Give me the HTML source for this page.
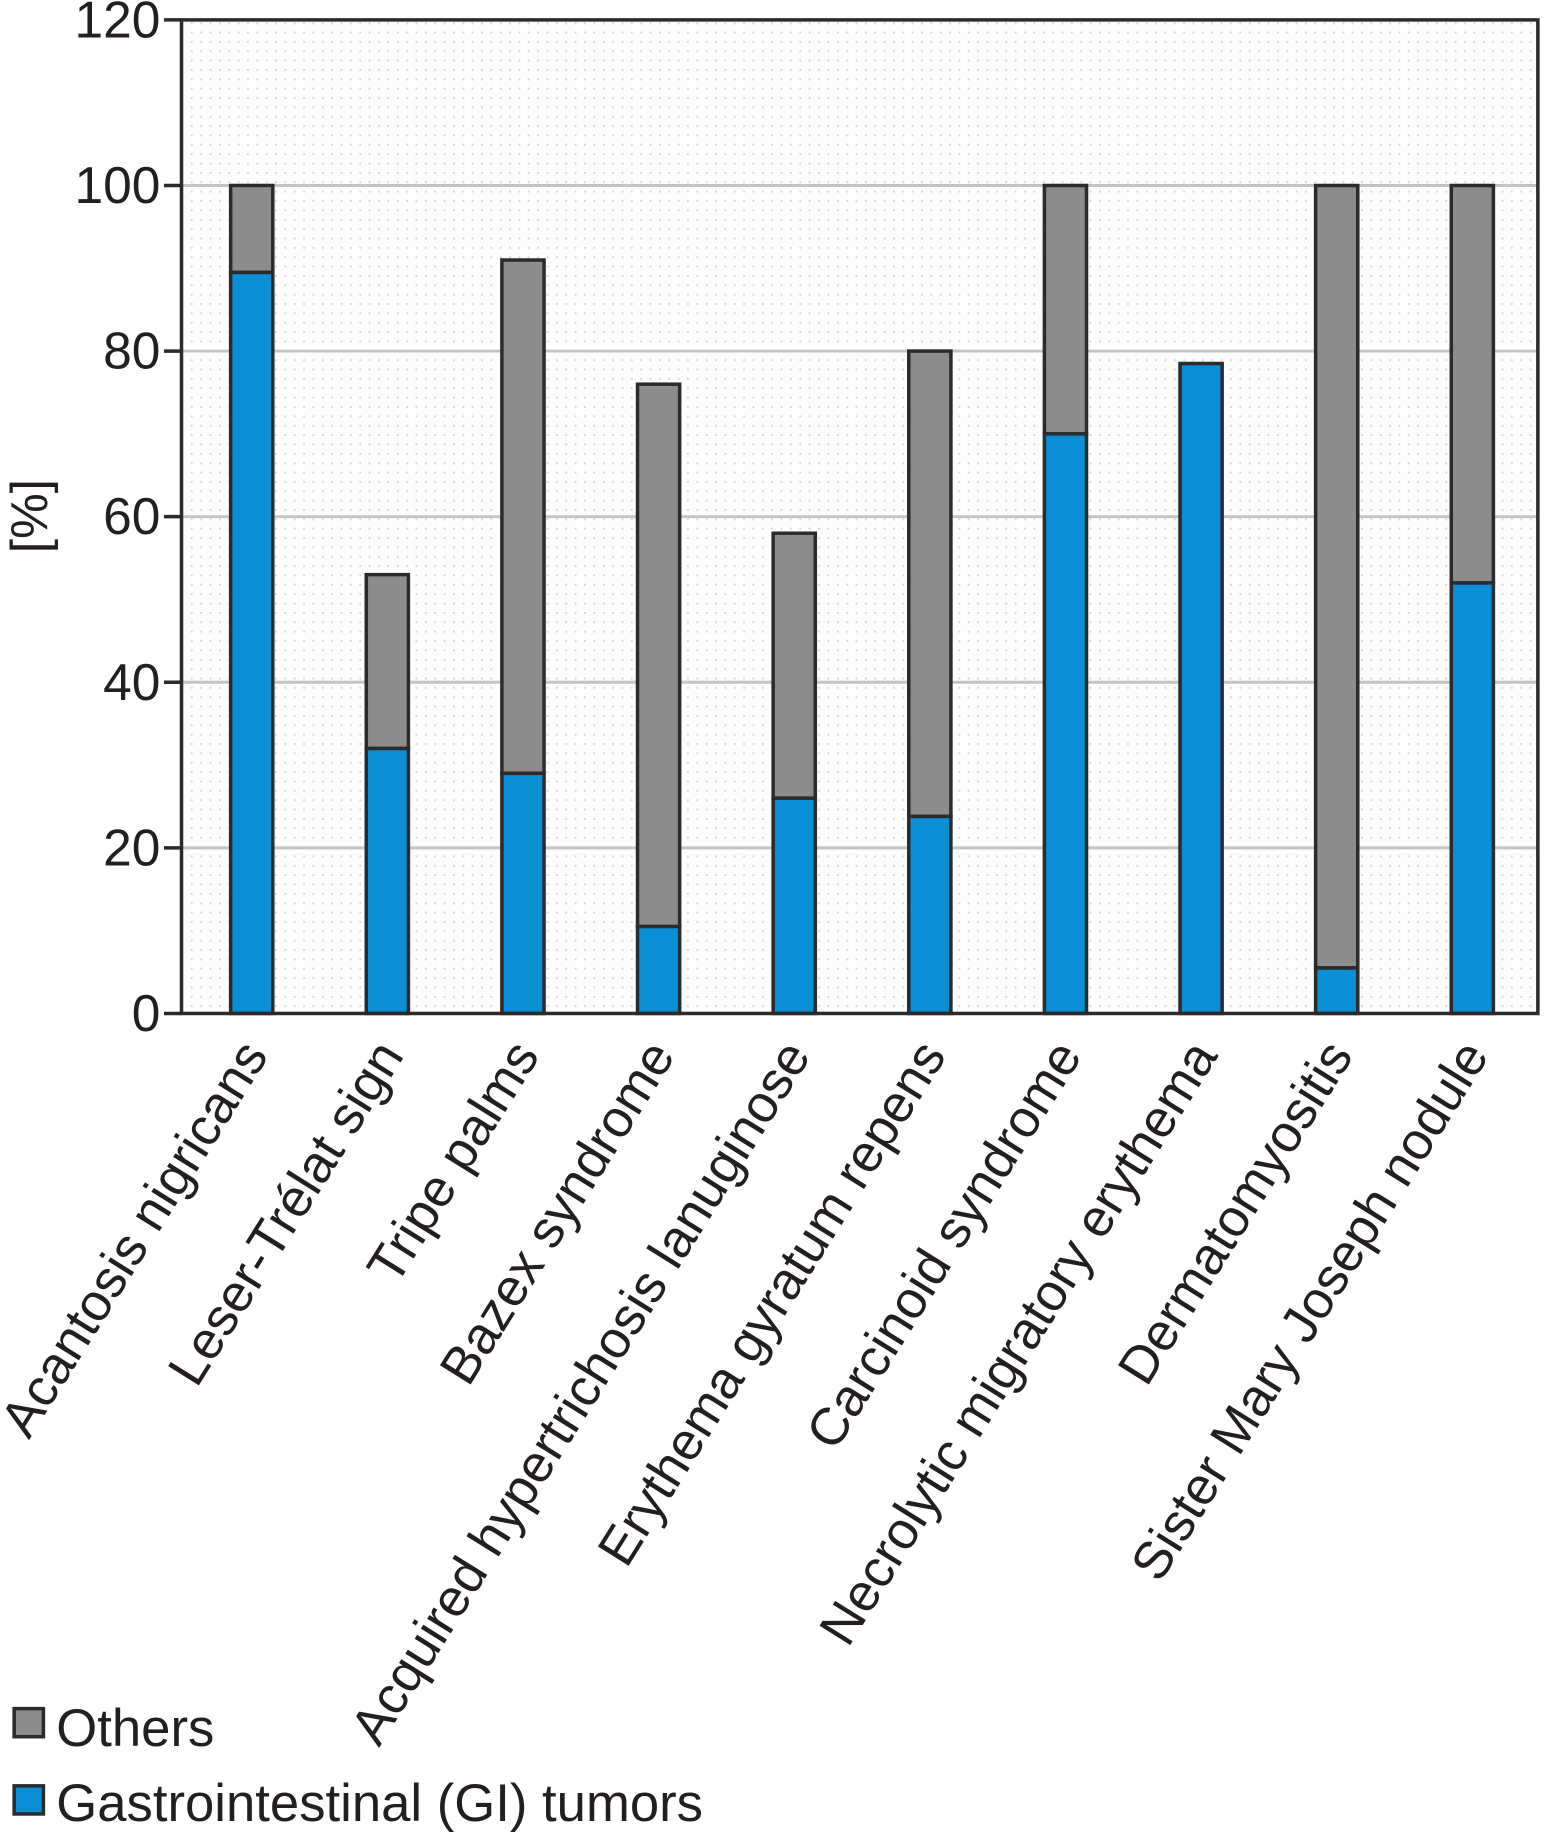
<!DOCTYPE html>
<html><head><meta charset="utf-8"><style>
html,body{margin:0;padding:0;background:#fff;}
svg{display:block;font-family:"Liberation Sans",sans-serif;}
</style></head><body>
<svg id="chart" width="1545" height="1835" viewBox="0 0 1320 1568" xmlns="http://www.w3.org/2000/svg">
<defs>
<pattern id="dots" width="8" height="8" patternUnits="userSpaceOnUse"><rect width="8" height="8" fill="#fdfdfd"/><rect x="3" y="3" width="1.5" height="1.5" fill="#d0d0d0"/></pattern>
</defs>
<rect x="155" y="17" width="1159" height="849" fill="url(#dots)"/>
<g id="grid"></g>
<g id="bars"></g>
<g id="axes"></g>
<g id="xlabels"></g>
<text transform="translate(40,441) rotate(-90)" text-anchor="middle" font-size="44" fill="#231f20">[%]</text>
<g>
<rect x="12" y="1460" width="25" height="24" fill="#8c8c8c" stroke="#2b2b2b" stroke-width="3"/>
<text x="48" y="1492" font-size="45" fill="#231f20">Others</text>
<rect x="12" y="1526" width="25" height="24" fill="#0a8fd6" stroke="#2b2b2b" stroke-width="3"/>
<text x="48" y="1556" font-size="45" fill="#231f20">Gastrointestinal (GI) tumors</text>
</g>
</svg>
<script>
const categories=["Acantosis nigricans","Leser-Trélat sign","Tripe palms","Bazex syndrome","Acquired hypertrichosis lanuginose","Erythema gyratum repens","Carcinoid syndrome","Necrolytic migratory erythema","Dermatomyositis","Sister Mary Joseph nodule"];
const giValues=[89.5,32,29,10.5,26,23.8,70,78.5,5.5,52];
const othersValues=[10.5,21,62,65.5,32,56.2,30,0,94.5,48];
const yTicks=[0,20,40,60,80,100,120];
const NS="http://www.w3.org/2000/svg";
const x0=155,x1=1314,yB=866,yT=17;
function y(v){return yB-(v/120)*(yB-yT);}
function xc(i){return 215+i*(1258-215)/(categories.length-1);}
function mk(tag,attrs,parent){const e=document.createElementNS(NS,tag);for(const k in attrs)e.setAttribute(k,attrs[k]);parent.appendChild(e);return e;}
const grid=document.getElementById('grid'),bars=document.getElementById('bars'),axes=document.getElementById('axes'),xl=document.getElementById('xlabels');
yTicks.forEach(t=>{
 if(t>0&&t<120){const l=mk('line',{x1:x0,x2:x1,y1:y(t),y2:y(t),stroke:'#c4c4c4','stroke-width':2.5},grid);
 
 }
 const tk=mk('line',{x1:x0-15,x2:x0,y1:y(t),y2:y(t),stroke:'#2b2b2b','stroke-width':3},axes);
 
 
 const tx=mk('text',{x:x0-18,y:y(t)+15,'text-anchor':'end','font-size':44,fill:'#231f20'},axes);
 tx.textContent=t;
 
 
});
const w=36;
categories.forEach((c,i)=>{
 const cx=xc(i);const g=giValues[i],o=othersValues[i];
 if(o>0){const r=mk('rect',{x:cx-w/2,y:y(g+o),width:w,height:y(g)-y(g+o),fill:'#8c8c8c',stroke:'#2b2b2b','stroke-width':3},bars);
 
 }
 const r2=mk('rect',{x:cx-w/2,y:y(g),width:w,height:yB-y(g),fill:'#0a8fd6',stroke:'#2b2b2b','stroke-width':3},bars);
 
 
 const t=mk('text',{transform:`translate(${cx+15},${yB+36}) rotate(-58)`,'text-anchor':'end','font-size':45,fill:'#231f20'},xl);
 t.textContent=c;
 
 
});
const fr=mk('rect',{x:x0,y:yT,width:x1-x0,height:yB-yT,fill:'none',stroke:'#2b2b2b','stroke-width':3},axes);


</script>
</body></html>
